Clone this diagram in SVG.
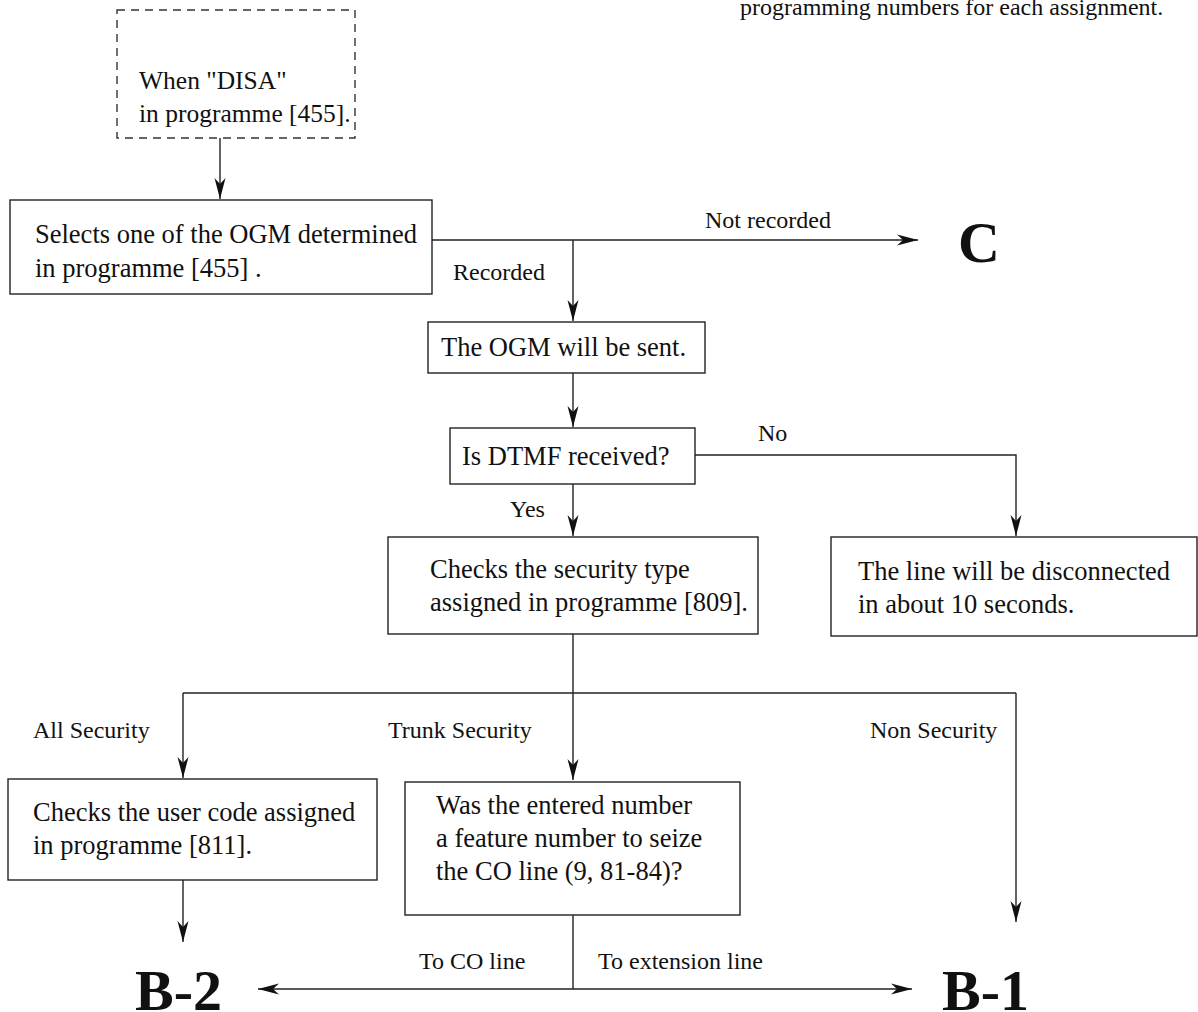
<svg xmlns="http://www.w3.org/2000/svg" width="1198" height="1012" viewBox="0 0 1198 1012">
  <style>
    .box { fill: #fff; stroke: #222; stroke-width: 1.4; }
    .dash { fill: none; stroke: #333; stroke-width: 1.4; stroke-dasharray: 8 6; }
    .t { font-family: "Liberation Serif", "Times New Roman", Times, serif; font-size: 26.5px; fill: #111; }
    .ts { font-family: "Liberation Serif", "Times New Roman", Times, serif; font-size: 25.5px; fill: #111; }
    .lbl { font-family: "Liberation Serif", "Times New Roman", Times, serif; font-size: 24px; fill: #111; }
    .big { font-family: "Liberation Serif", "Times New Roman", Times, serif; font-size: 58px; font-weight: bold; fill: #111; }
    .ln { fill: none; stroke: #222; stroke-width: 1.4; }
  </style>
  <defs>
    <!-- slim notched arrowhead shared by every connector -->
    <marker id="ah" markerUnits="userSpaceOnUse" viewBox="-22 -6 24 12" refX="0" refY="0" markerWidth="24" markerHeight="12" orient="auto-start-reverse">
      <path d="M0,0 L-21,-5.5 L-15,0 L-21,5.5 Z" fill="#111"/>
    </marker>
  </defs>

  <rect width="1198" height="1012" fill="#fff"/>

  <text class="lbl" x="740" y="15">programming numbers for each assignment.</text>

  <g id="connectors">
    <line class="ln" x1="220" y1="138" x2="220" y2="199" marker-end="url(#ah)"/>
    <line class="ln" x1="432" y1="240" x2="918" y2="240" marker-end="url(#ah)"/>
    <line class="ln" x1="573" y1="240" x2="573" y2="321" marker-end="url(#ah)"/>
    <line class="ln" x1="573" y1="373" x2="573" y2="427" marker-end="url(#ah)"/>
    <polyline class="ln" points="695,455 1016,455 1016,536" marker-end="url(#ah)"/>
    <line class="ln" x1="573" y1="484" x2="573" y2="536" marker-end="url(#ah)"/>
    <line class="ln" x1="573" y1="634" x2="573" y2="780" marker-end="url(#ah)"/>
    <line class="ln" x1="183" y1="693" x2="1016" y2="693"/>
    <line class="ln" x1="183" y1="693" x2="183" y2="778" marker-end="url(#ah)"/>
    <line class="ln" x1="1016" y1="693" x2="1016" y2="922" marker-end="url(#ah)"/>
    <line class="ln" x1="183" y1="880" x2="183" y2="942" marker-end="url(#ah)"/>
    <line class="ln" x1="573" y1="915" x2="573" y2="989"/>
    <line class="ln" x1="258" y1="989" x2="912" y2="989" marker-start="url(#ah)" marker-end="url(#ah)"/>

    <text class="lbl" x="705" y="228">Not recorded</text>
    <text class="lbl" x="453" y="280">Recorded</text>
    <text class="lbl" x="758" y="441">No</text>
    <text class="lbl" x="510" y="517">Yes</text>
    <text class="lbl" x="33" y="738">All Security</text>
    <text class="lbl" x="388" y="738">Trunk Security</text>
    <text class="lbl" x="870" y="738">Non Security</text>
    <text class="lbl" x="419" y="969">To CO line</text>
    <text class="lbl" x="598" y="969">To extension line</text>
  </g>

  <g id="start">
    <rect class="dash" x="117" y="10" width="238" height="128"/>
    <text class="ts" x="139" y="89">When "DISA"</text>
    <text class="ts" x="139" y="122">in programme [455].</text>
  </g>

  <g id="select-ogm">
    <rect class="box" x="10" y="200" width="422" height="94"/>
    <text class="t" x="35" y="243">Selects one of the OGM determined</text>
    <text class="t" x="35" y="277">in programme [455] .</text>
  </g>

  <g id="goto-c">
    <text class="big" x="958" y="262">C</text>
  </g>

  <g id="send-ogm">
    <rect class="box" x="428" y="322" width="277" height="51"/>
    <text class="t" x="441" y="356">The OGM will be sent.</text>
  </g>

  <g id="dtmf">
    <rect class="box" x="450" y="428" width="245" height="56"/>
    <text class="t" x="462" y="465">Is DTMF received?</text>
  </g>

  <g id="security-type">
    <rect class="box" x="388" y="537" width="370" height="97"/>
    <text class="t" x="430" y="578">Checks the security type</text>
    <text class="t" x="430" y="611">assigned in programme [809].</text>
  </g>

  <g id="disconnect">
    <rect class="box" x="831" y="537" width="366" height="99"/>
    <text class="t" x="858" y="580">The line will be disconnected</text>
    <text class="t" x="858" y="613">in about 10 seconds.</text>
  </g>

  <g id="user-code">
    <rect class="box" x="8" y="779" width="369" height="101"/>
    <text class="t" x="33" y="821">Checks the user code assigned</text>
    <text class="t" x="33" y="854">in programme [811].</text>
  </g>

  <g id="feature-number">
    <rect class="box" x="405" y="782" width="335" height="133"/>
    <text class="t" x="436" y="814">Was the entered number</text>
    <text class="t" x="436" y="847">a feature number to seize</text>
    <text class="t" x="436" y="880">the CO line (9, 81-84)?</text>
  </g>

  <g id="goto-b2">
    <text class="big" x="135" y="1010">B-2</text>
  </g>

  <g id="goto-b1">
    <text class="big" x="942" y="1010">B-1</text>
  </g>
</svg>
